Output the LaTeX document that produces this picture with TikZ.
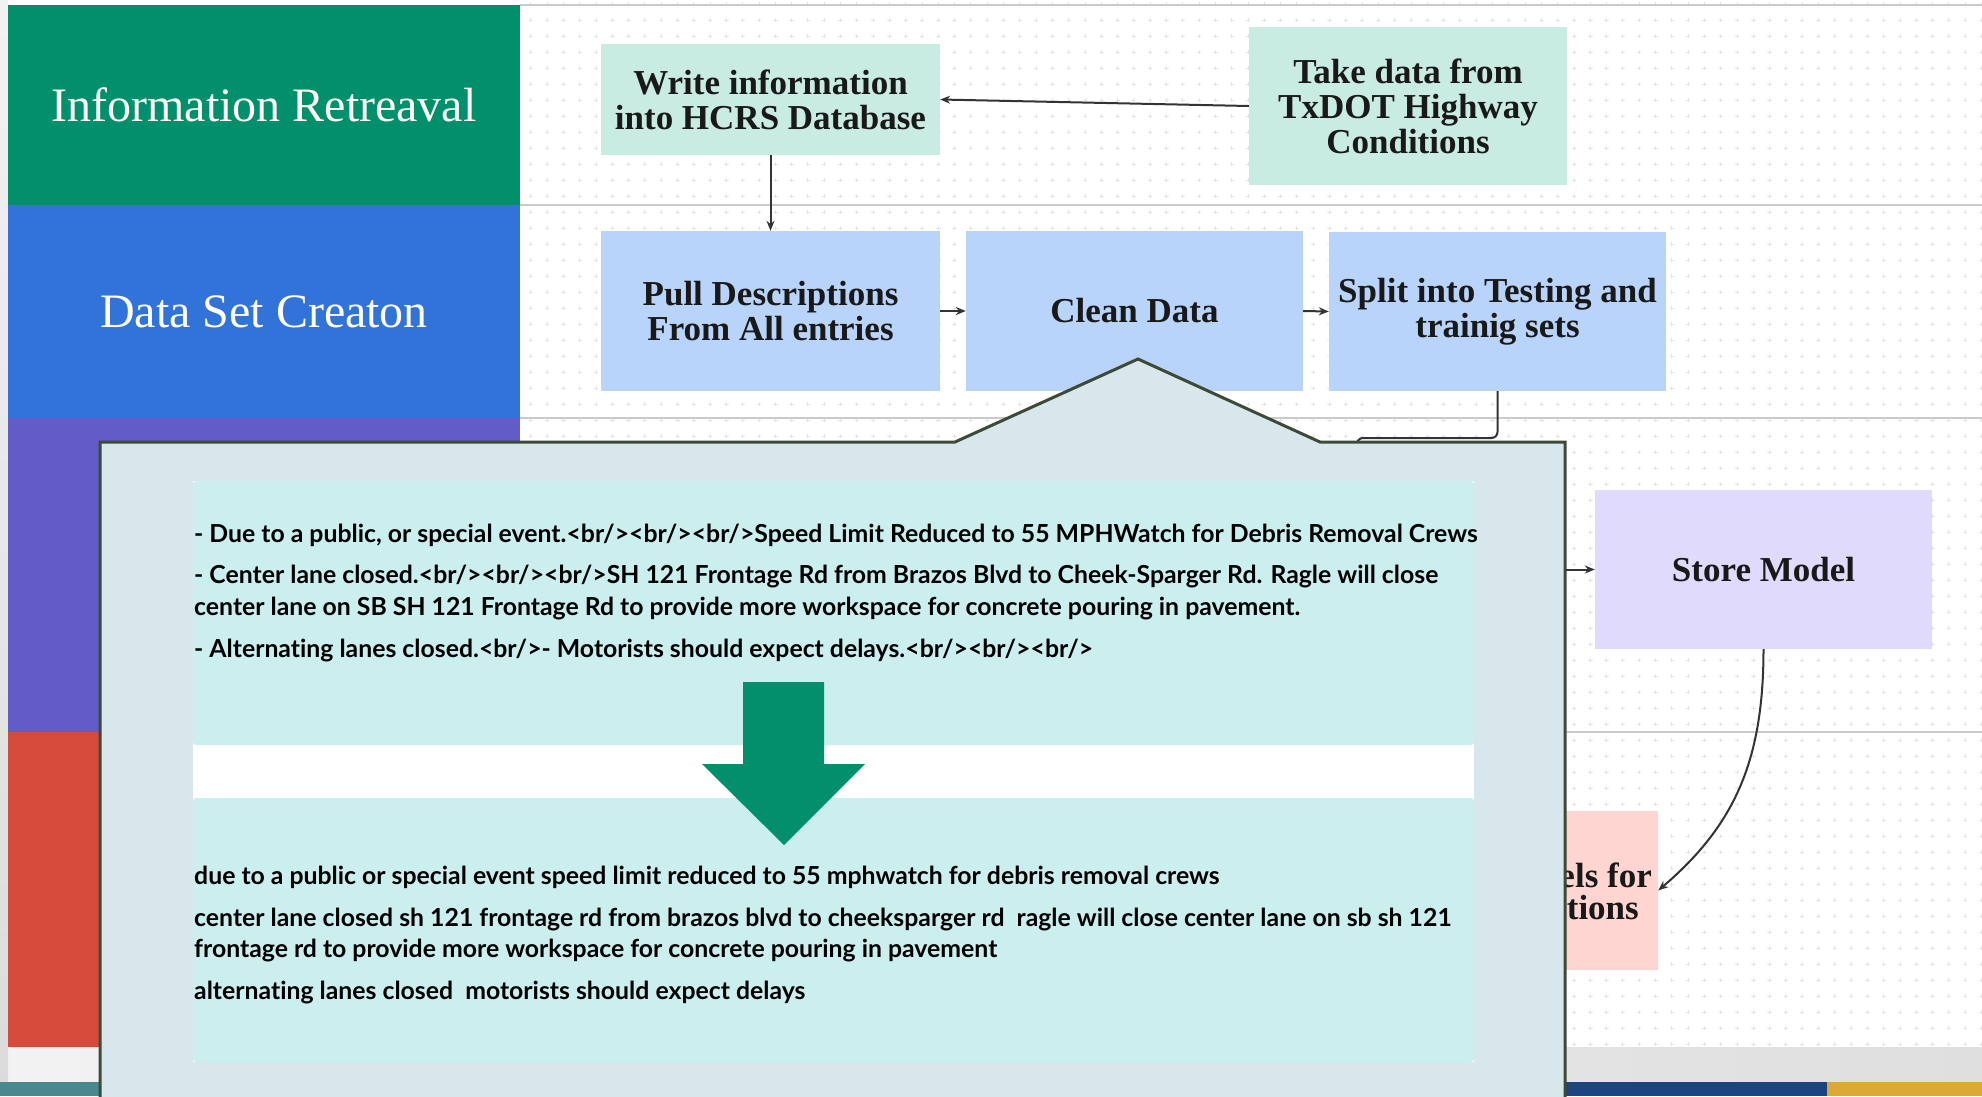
\documentclass[tikz,border=0pt]{standalone}
\usepackage{fontspec}
\setmainfont{Liberation Serif}
\newfontfamily\callfont[Ligatures={NoCommon}]{Lato}
\usetikzlibrary{arrows.meta}
\definecolor{greenlane}{HTML}{028F6C}
\definecolor{bluelane}{HTML}{3173D8}
\definecolor{purplelane}{HTML}{635BC6}
\definecolor{redlane}{HTML}{D64A3B}
\definecolor{mint}{HTML}{C8ECE2}
\definecolor{bluebox}{HTML}{B8D4FB}
\definecolor{lilac}{HTML}{E0DAFC}
\definecolor{pinkbox}{HTML}{FFD5D1}
\definecolor{callfill}{HTML}{D8E7EB}
\definecolor{calldraw}{HTML}{3D4A38}
\definecolor{tealbox}{HTML}{CBEEEF}
\definecolor{linec}{HTML}{333333}
\definecolor{sepc}{HTML}{CACACA}
\definecolor{gridc}{HTML}{E4E4E4}
\definecolor{bgray}{HTML}{D6D6D6}
\definecolor{stripteal}{HTML}{4A8890}
\definecolor{stripblue}{HTML}{1B4480}
\definecolor{stripgold}{HTML}{DCA935}
\tikzset{
  lanelabel/.style={rectangle, inner sep=0, text=white!96!yellow, align=center,
    font=\fontsize{48}{52}\selectfont},
  procbox/.style={rectangle, inner sep=0, align=center, text=black!90,
    font=\fontsize{35}{35}\bfseries\selectfont},
  conn/.style={draw=linec, line width=2, -{Stealth[length=10,width=8]}},
  plainconn/.style={draw=linec, line width=2},
  sepline/.style={draw=sepc, line width=2.5},
  calltext/.style={anchor=base west, inner sep=0, text=black,
    font=\callfont\bfseries\fontsize{24.8}{31}\selectfont},
  tealpanel/.style={fill=tealbox, rounded corners=3}
}
\begin{document}
\begin{tikzpicture}[x=1pt,y=-1pt]
\useasboundingbox (0,0) rectangle (1982,1096);
% background
\fill[bgray] (0,0) rectangle (1982,1096);
\shade[left color=white!90!gray, right color=white!75!gray] (0,1047) rectangle (1982,1082);
\shade[top color=white!90!gray, bottom color=white!72!gray] (0,0) rectangle (8,1082);
\fill[white] (8,0) rectangle (1982,1047);
\fill[stripteal] (0,1082) rectangle (100,1096);
\fill[stripblue] (1550,1082) rectangle (1827,1096);
\fill[stripgold] (1827,1082) rectangle (1982,1096);
% grid
\draw[gridc, line width=1]
  \foreach \i in {0,...,89} { \foreach \j in {0,...,65} {
    ({530.8+16.3*\i-2.2},{4+16*\j}) -- ({530.8+16.3*\i+2.2},{4+16*\j})
    ({530.8+16.3*\i},{4+16*\j-2.2}) -- ({530.8+16.3*\i},{4+16*\j+2.2}) } };
% lane separators
\draw[sepline] (520,5) -- (1982,5);
\draw[sepline] (520,205) -- (1982,205);
\draw[sepline] (520,418) -- (1982,418);
\draw[sepline] (520,732) -- (1982,732);
% lane labels
\node[lanelabel, fill=greenlane, minimum width=512, minimum height=200] (lane1) at (264,105) {Information Retreaval};
\node[lanelabel, fill=bluelane, minimum width=512, minimum height=213] (lane2) at (264,311.5) {Data Set Creaton};
\node[lanelabel, fill=purplelane, minimum width=512, minimum height=314] (lane3) at (264,575) {};
\node[lanelabel, fill=redlane, minimum width=512, minimum height=315] (lane4) at (264,889.5) {};
% process boxes
\node[procbox, fill=mint, minimum width=339, minimum height=111] (write) at (770.5,99.5) {Write information\\into HCRS Database};
\node[procbox, fill=mint, minimum width=318, minimum height=158] (take) at (1408,106) {Take data from\\TxDOT Highway\\Conditions};
\node[procbox, fill=bluebox, minimum width=339, minimum height=160] (pull) at (770.5,311) {Pull Descriptions\\From All entries};
\node[procbox, fill=bluebox, minimum width=337, minimum height=160] (clean) at (1134.5,311) {Clean Data};
\node[procbox, fill=bluebox, minimum width=337, minimum height=159] (split) at (1497.5,311.5) {Split into Testing and\\trainig sets};
\node[procbox, fill=lilac, minimum width=337, minimum height=159] (store) at (1763.5,569.5) {Store Model};
\node[procbox, fill=pinkbox, minimum width=337, minimum height=159] (use) at (1489.5,890.5) {};
\node[procbox, anchor=east] (usea) at (1652,875) {els for};
\node[procbox, anchor=east] (useb) at (1639,908) {tions};
% hidden ends of connectors
\coordinate (trainin) at (1357,520);
\coordinate (trainout) at (1540,569.5);
% connectors
\draw[conn] (take.west) -- (write.east);
\draw[conn] (write.south) -- (pull.north);
\draw[conn] (pull.east) -- (clean.west);
\draw[conn] (clean.east) -- (split.west);
\draw[plainconn, rounded corners=6] (split.south) |- (1357,438) -- (trainin);
\draw[conn] (trainout) -- (store.west);
\draw[conn] (store.south) .. controls (1763.5,760) and (1735,825) .. (use.east);
% callout
\draw[fill=callfill, draw=calldraw, line width=3]
  (100,1110) -- (100,442) -- (955,442) -- (1138,359) -- (1320,442) -- (1565,442) -- (1565,1110);
\fill[white] (193,481) rectangle (1474,1062);
\fill[tealpanel] (193,481) rectangle (1474,745);
\fill[tealpanel] (193,798) rectangle (1474,1062);
\node[calltext] (t1) at (194,542) {- Due to a public, or special event.<br/><br/><br/>Speed Limit Reduced to 55 MPHWatch for Debris Removal Crews};
\node[calltext] (t2) at (194,583) {- Center lane closed.<br/><br/><br/>SH 121 Frontage Rd from Brazos Blvd to Cheek-Sparger Rd. Ragle will close};
\node[calltext] (t3) at (194,615) {center lane on SB SH 121 Frontage Rd to provide more workspace for concrete pouring in pavement.};
\node[calltext] (t4) at (194,657) {- Alternating lanes closed.<br/>- Motorists should expect delays.<br/><br/><br/>};
\node[calltext] (u1) at (194,884) {due to a public or special event speed limit reduced to 55 mphwatch for debris removal crews};
\node[calltext] (u2) at (194,926) {center lane closed sh 121 frontage rd from brazos blvd to cheeksparger rd~ ragle will close center lane on sb sh 121};
\node[calltext] (u3) at (194,957) {frontage rd to provide more workspace for concrete pouring in pavement};
\node[calltext] (u4) at (194,999) {alternating lanes closed~ motorists should expect delays};
% big green arrow
\fill[greenlane] (743,682) -- (824,682) -- (824,764) -- (865,764) -- (784,845) -- (702,764) -- (743,764) -- cycle;
\end{tikzpicture}
\end{document}
